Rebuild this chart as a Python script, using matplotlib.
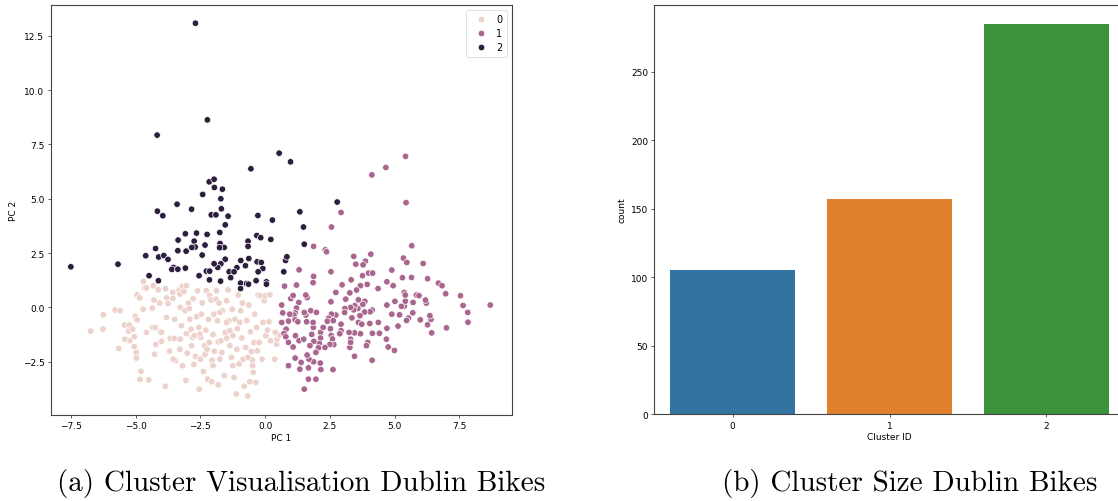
import numpy as np
import pandas as pd
import seaborn as sns
from matplotlib import pyplot as plt

# PCA scatter, cluster 0 (light)
c0_pc1 = [-6.74, -6.25, -6.26, -5.79, -5.60, -5.65, -5.43, -5.25, -5.27, -5.23, -5.11, -5.05, -5.01, -4.94,
          -5.05, -4.98, -4.97, -4.94, -4.84, -4.79, -4.83, -4.49, -4.70, -4.65, -4.58, -4.36, -4.32, -4.29,
          -4.34, -4.25, -4.22, -4.27, -4.07, -4.05, -4.00, -3.85, -3.84, -3.80, -3.81, -3.75, -3.69, -3.66,
          -3.57, -3.56, -3.51, -3.49, -3.46, -3.32, -3.29, -3.28, -3.28, -3.23, -3.19, -3.19, -3.14, -3.09,
          -3.06, -3.04, -3.01, -2.96, -2.93, -2.91, -2.86, -2.84, -2.80, -2.78, -2.75, -2.69, -2.65, -2.61,
          -2.56, -2.55, -2.50, -2.48, -2.46, -2.43, -2.38, -2.34, -2.32, -2.29, -2.27, -2.22, -2.19, -2.16,
          -2.14, -2.09, -2.06, -2.05, -2.01, -1.98, -1.96, -1.90, -1.84, -1.81, -1.81, -1.78, -1.75, -1.71,
          -1.67, -1.65, -1.58, -1.54, -1.49, -1.48, -1.43, -1.40, -1.36, -1.31, -1.27, -1.24, -1.20, -1.16,
          -1.11, -1.09, -1.07, -1.00, -0.95, -0.90, -0.88, -0.85, -0.81, -0.75, -0.71, -0.67, -0.63, -0.59,
          -0.57, -0.53, -0.50, -0.48, -0.43, -0.40, -0.36, -0.33, -0.30, -0.27, -0.23, -0.19, -0.12, -0.08,
          -0.04, 0.00, 0.03, 0.09, 0.15, 0.18, 0.21, 0.37, 0.44, 0.46, 0.54, 0.39, -1.04, -1.88, -3.04,
          -4.13, -1.36, -1.24, -0.46, -0.66, -2.52, -2.72, -2.01, -3.55, -3.29, -4.00, -4.58, -5.42, -4.71,
          -1.75, -1.49, -0.98, -2.24]
c0_pc2 = [-1.09, -0.34, -1.00, -0.12, -0.15, -1.89, -0.81, -0.81, -1.09, -1.53, -1.00, -1.35, -0.41, -0.57,
          -1.80, -2.07, -2.33, 0.58, 0.44, -2.94, -3.31, -3.33, 1.20, 0.90, 0.90, -0.03, 1.00, 0.34,
          -0.92, -0.92, -1.70, -2.15, 0.20, -1.12, -1.56, -3.63, 0.86, 0.44, -0.46, 0.18, -2.01, -1.43,
          0.69, 0.41, -1.43, -0.55, -2.45, 0.80, 0.61, 0.00, -1.46, -0.84, -2.68, 0.97, 0.74, -0.15,
          -3.36, -1.20, -2.10, 0.20, -0.05, -0.54, -1.00, -1.76, -1.38, 0.40, -2.62, -2.25, -0.43, 0.77,
          -0.92, -3.76, -2.38, -1.38, -0.31, 0.21, -2.95, -1.76, -2.16, -1.04, 0.78, -3.30, -0.55, -1.61,
          0.55, 0.34, -3.42, -2.43, -1.24, -0.31, -2.02, 0.38, -0.61, -1.58, -3.56, 0.20, -2.38, -1.53,
          -2.07, -0.15, -3.14, -1.15, 0.31, -1.41, 0.81, -0.61, -1.76, -2.30, -0.08, -2.68, -3.22, -0.55,
          -3.98, -1.93, -0.98, -2.60, -0.15, -1.41, 0.20, -2.38, -3.63, -1.84, -0.61, -4.07, 0.11, -3.42,
          -1.12, -2.02, -2.42, -2.68, -1.61, -0.31, -3.45, -0.92, -2.00, 0.57, -1.61, 0.54, -2.38, -0.69,
          0.31, 0.54, -1.30, -1.04, -0.66, 0.58, -1.53, -2.38, -1.69, -1.46, -1.27, -1.15, 0.57, 0.77, 1.00,
          0.81, -1.07, -1.30, -2.99, -2.30, -1.23, -1.30, -2.68, -2.38, -1.92, -1.15, -1.15, -1.46, -0.08,
          -0.23, -0.69, -0.69, -1.92]

# cluster 1 (mauve)
c1_pc1 = [5.42, 4.66, 4.12, 5.44, 2.93, 2.56, 1.87, 2.32, 2.37, 5.66, 3.42, 4.08, 5.34, 5.47, 6.10, 3.50,
          3.87, 3.78, 4.89, 1.31, 2.54, 1.87, 3.99, 4.15, 3.76, 5.30, 5.65, 6.27, 3.32, 4.70, 1.85, 1.21,
          0.75, 2.97, 3.94, 3.68, 4.36, 3.53, 6.69, 6.83, 6.97, 7.54, 7.64, 7.82, 7.83, 8.69, 7.00, 6.43,
          6.27, 6.40, 6.22, 6.19, 5.84, 5.94, 5.99, 5.70, 5.53, 5.46, 5.37, 5.41, 5.37, 5.41, 5.26, 5.19,
          5.13, 5.01, 4.89, 4.70, 4.70, 4.75, 4.99, 4.37, 4.41, 4.14, 4.13, 4.04, 3.96, 3.91, 4.13, 4.05,
          3.84, 3.85, 3.77, 3.60, 3.66, 3.60, 3.58, 3.46, 3.42, 3.35, 3.30, 3.08, 3.07, 3.27, 3.73, 3.68,
          3.45, 3.24, 3.30, 3.27, 3.45, 3.30, 2.93, 2.93, 2.88, 2.73, 2.56, 2.52, 2.55, 2.60, 2.65, 2.50,
          2.62, 2.54, 2.45, 2.40, 2.31, 2.14, 2.14, 2.09, 2.06, 1.96, 2.13, 2.15, 1.96, 1.67, 1.51, 1.34,
          1.67, 1.87, 1.69, 1.62, 1.16, 1.39, 0.90, 1.88, 1.73, 1.80, 1.86, 1.85, 1.76, 1.60, 1.57, 1.51,
          1.62, 1.57, 1.30, 1.21, 1.16, 1.11, 1.16, 1.26, 0.99, 1.08, 0.95, 0.90, 0.81, 0.64, 0.68, 0.64,
          0.73, 0.80, 0.90, 1.08, 1.17, 1.31, 1.49, 4.68, 6.36, 5.71, 4.94, 2.73, 3.11, 1.98, 2.24, 2.63]
c1_pc2 = [6.95, 6.44, 6.10, 4.82, 4.37, 3.70, 2.81, 2.65, 2.56, 2.84, 2.35, 2.45, 2.27, 2.07, 2.02, 1.99,
          2.13, 1.96, 1.72, 1.73, 1.64, 1.43, 1.58, 1.58, 1.46, 1.37, 1.38, 1.32, 1.27, 1.18, 1.14, 1.03,
          0.98, 1.04, 1.06, 1.00, 0.87, 0.80, 1.12, 1.00, 0.63, 0.54, 0.09, -0.23, -0.68, 0.11, -0.94, -1.17,
          -0.80, -0.55, 0.20, 0.34, 0.57, 0.54, -0.57, -0.25, -0.49, -0.60, 0.06, 0.29, 0.69, 0.57, 0.05, -0.34,
          -0.86, 0.28, -0.31, 0.11, -0.96, -1.82, -1.98, -0.69, -1.19, -1.19, -2.43, -0.74, -1.61, -1.76, -0.12, -0.20,
          -0.21, 0.28, 0.14, 0.35, -0.38, -0.69, -0.05, 0.08, -0.11, -0.48, 0.00, -0.05, -0.23, 0.67, -0.77, -1.21,
          -1.17, -1.15, -1.46, -1.84, -2.25, -1.61, -1.07, -0.77, -1.21, -0.35, -0.31, -0.98, -1.29, -1.45, -1.71, -1.70,
          -2.86, 0.26, -0.50, -0.64, -1.84, -1.15, -1.41, -1.66, -1.86, -2.07, -2.56, -2.86, -3.30, -3.30, -3.76, -2.84,
          -2.78, -2.50, -2.38, -2.19, -2.33, -2.53, -2.68, -1.56, -1.76, -1.24, -0.92, -0.69, -0.15, -0.66, -0.35, -0.23,
          0.45, 0.57, 0.23, -0.03, -0.25, -0.35, -0.57, -0.66, 0.41, 0.55, -0.31, -0.63, -1.00, 0.11, -0.25, -0.69,
          -1.20, -1.35, -1.61, -1.82, -1.30, -1.53, -1.46, -1.46, -0.38, 0.23, 1.00, 0.69, 0.38, -0.23, -0.92, -0.61]

# cluster 2 (dark)
c2_pc1 = [-2.69, -2.23, -4.17, 0.54, 0.98, -0.55, -2.16, -1.97, -1.96, -1.65, -2.41, -1.71, -3.40, -2.84,
          -1.69, -4.16, -3.95, -2.08, -1.90, -1.43, -0.28, 0.28, -1.54, 2.78, 1.34, 1.48, 1.51, -3.08,
          -2.65, -2.24, -1.75, -3.36, -2.74, -2.32, -1.74, -1.58, -3.37, -3.05, -2.70, -2.83, -0.66, -0.32,
          -0.17, 0.22, -0.66, -4.23, -4.61, -4.11, -3.91, -3.75, -2.43, -1.54, -1.76, -0.63, -0.31, -0.15,
          -1.71, -1.83, -1.97, -3.54, -3.60, -3.37, -3.08, -1.09, -0.94, -0.76, -0.09, -0.27, -1.39, -1.20,
          -2.27, -2.14, -2.55, -1.33, -2.15, -1.72, -0.95, -0.72, -0.64, -0.35, 0.05, 0.05, -0.95, -4.48,
          -4.12, -5.68, -7.50, 0.72, 0.79, 0.84]
c2_pc2 = [13.08, 8.63, 7.93, 7.10, 6.70, 6.38, 5.78, 5.90, 5.52, 5.44, 5.20, 5.00, 4.75, 4.52,
          4.54, 4.43, 4.22, 4.26, 4.26, 4.20, 4.23, 4.02, 3.80, 4.85, 4.40, 3.70, 2.91, 3.39,
          3.42, 3.36, 3.45, 3.10, 3.05, 2.87, 2.94, 2.76, 2.61, 2.59, 2.78, 2.76, 3.05, 3.31,
          3.21, 3.13, 2.81, 2.71, 2.38, 2.32, 2.39, 2.21, 2.41, 2.22, 2.75, 2.25, 2.10, 2.07,
          2.01, 1.84, 2.01, 1.84, 1.75, 1.76, 1.81, 1.83, 2.16, 1.92, 1.79, 1.64, 1.64, 1.64,
          1.67, 1.67, 1.46, 1.37, 1.27, 1.21, 1.12, 1.10, 1.07, 1.23, 1.18, 1.07, 0.87, 1.46,
          1.23, 1.99, 1.87, 1.64, 2.16, 2.33]

# cluster sizes
cluster_ids = ["0", "1", "2"]
counts = [105, 157, 285]
bar_colors = ["#3274a1", "#e1812c", "#3a923a"]

df = pd.DataFrame({
    "PC 1": c0_pc1 + c1_pc1 + c2_pc1,
    "PC 2": c0_pc2 + c1_pc2 + c2_pc2,
    "cluster": [0] * len(c0_pc1) + [1] * len(c1_pc1) + [2] * len(c2_pc1),
})

plt.rcParams['font.family'] = ['DejaVu Sans']
plt.rcParams['font.size'] = 7
plt.rcParams['axes.edgecolor'] = '#444444'
plt.rcParams['axes.linewidth'] = 0.8

fig = plt.figure(figsize=(11.18, 5.02), dpi=100)

# (a) scatter
ax1 = fig.add_axes([0.0453, 0.1713, 0.4129, 0.8173])
sns.scatterplot(data=df, x="PC 1", y="PC 2", hue="cluster", legend="full",
                s=22, linewidth=0.5, edgecolor="white", ax=ax1)
ax1.set_xlim(-8.28, 9.54)
ax1.set_ylim(-4.95, 13.93)
ax1.set_xticks([-7.5, -5.0, -2.5, 0.0, 2.5, 5.0, 7.5])
ax1.set_yticks([-2.5, 0.0, 2.5, 5.0, 7.5, 10.0, 12.5])
ax1.tick_params(labelsize=6.5, length=2.5, width=0.6, color='#444444', pad=2)
ax1.set_xlabel("PC 1", fontsize=6.5, labelpad=2)
ax1.set_ylabel("PC 2", fontsize=6.5, labelpad=3)
leg = ax1.legend(loc="upper right", fontsize=7, markerscale=1.0, handletextpad=0.6,
                 borderpad=0.5, labelspacing=0.4, title=None)
leg.get_frame().set_linewidth(0.5)

# (b) bar chart
ax2 = fig.add_axes([0.5852, 0.1727, 0.4210, 0.8160])
ax2.bar(cluster_ids, counts, width=0.8, color=bar_colors)
ax2.set_xlim(-0.5, 2.5)
ax2.set_ylim(0, 299)
ax2.set_yticks([0, 50, 100, 150, 200, 250])
ax2.tick_params(labelsize=6.5, length=2.5, width=0.6, color='#444444', pad=2)
ax2.set_xlabel("Cluster ID", fontsize=6.5, labelpad=2)
ax2.set_ylabel("count", fontsize=6.5, labelpad=3)

# captions
fig.text(0.269, 0.022, "(a) Cluster Visualisation Dublin Bikes", family="cmr10",
         fontsize=21, ha="center", va="baseline")
fig.text(0.814, 0.022, "(b) Cluster Size Dublin Bikes", family="cmr10",
         fontsize=21, ha="center", va="baseline")

fig.savefig("out.png", dpi=100)
